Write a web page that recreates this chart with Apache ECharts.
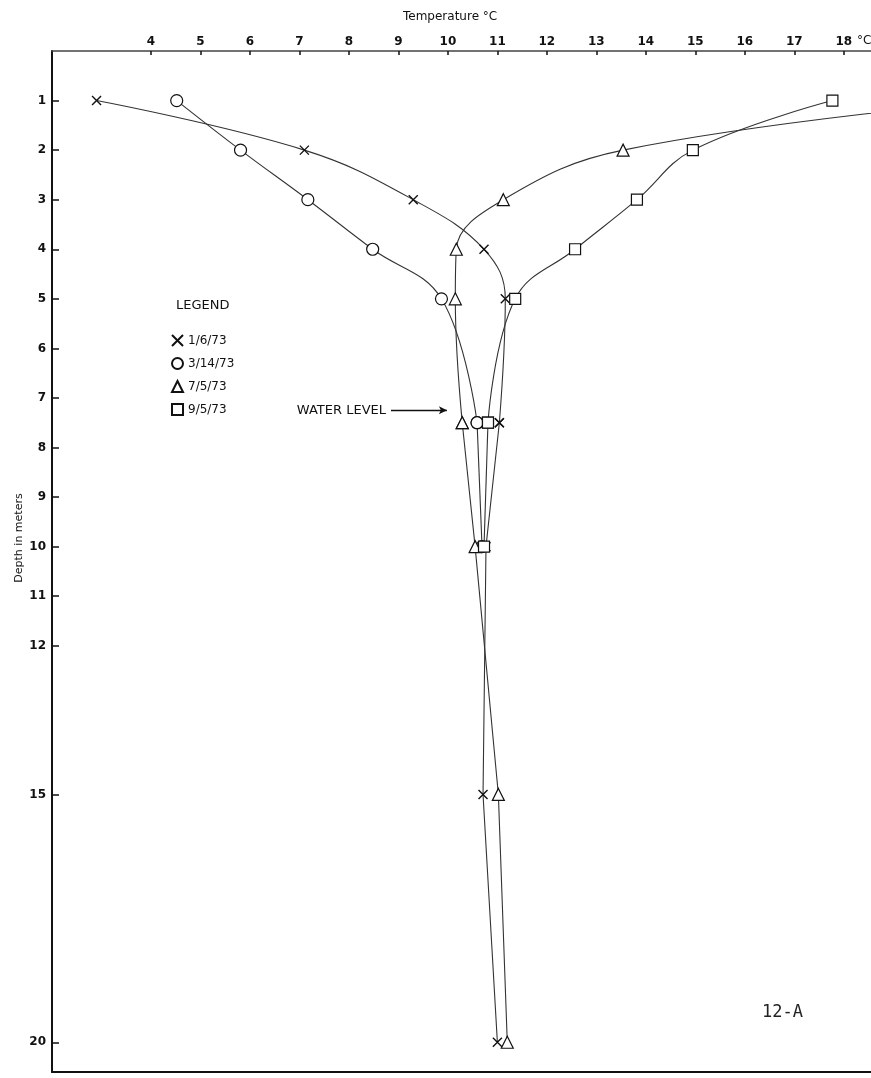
<!DOCTYPE html>
<html>
<head>
<meta charset="utf-8">
<script src="https://cdn.jsdelivr.net/npm/echarts@6/dist/echarts.min.js"></script>
<style>
html,body{margin:0;padding:0;background:#fff;}
#chart{width:871px;height:1078px;}
</style>
</head>
<body>
<div id="chart"></div>
<script>
// ---- data (temperature °C vs depth m) ----
const seriesNames = ['1/6/73', '3/14/73', '7/5/73', '9/5/73'];
const depthJan = [1, 2, 3, 4, 5, 7.5, 10, 15, 20];
const tempJan  = [2.9, 7.1, 9.3, 10.73, 11.16, 11.04, 10.77, 10.71, 11.0];
const depthMar = [1, 2, 3, 4, 5, 7.5, 10];
const tempMar  = [4.52, 5.81, 7.17, 8.48, 9.87, 10.59, 10.69];
const depthJul = [1, 2, 3, 4, 5, 7.5, 10, 15, 20];
const tempJul  = [21.0, 13.54, 11.12, 10.17, 10.15, 10.29, 10.55, 11.02, 11.2];
const depthSep = [1, 2, 3, 4, 5, 7.5, 10];
const tempSep  = [17.77, 14.95, 13.82, 12.57, 11.36, 10.81, 10.73];
const tempTicks  = [4, 5, 6, 7, 8, 9, 10, 11, 12, 13, 14, 15, 16, 17, 18];
const depthTicks = [1, 2, 3, 4, 5, 6, 7, 8, 9, 10, 11, 12, 15, 20];
const waterLevel = 7.5;          // depth of the water level, m
const waterArrowDepth = 7.25;
const waterArrow = [8.85, 9.98];

const pairs = (t, d) => t.map((v, i) => [v, d[i]]);
const crossPath = 'path://M0,0L10,10M10,0L0,10';
const symbols = [crossPath, 'circle', 'triangle', 'rect'];
const sizes = [9, 12, 12, 11];
const dataSets = [pairs(tempJan, depthJan), pairs(tempMar, depthMar), pairs(tempJul, depthJul), pairs(tempSep, depthSep)];

const FONT = '"DejaVu Sans", sans-serif';
const chart = echarts.init(document.getElementById('chart'), null, {renderer: 'canvas'});

const itemStyleFor = i => i === 0
  ? {color: 'rgba(0,0,0,0)', borderColor: '#111', borderWidth: 1.4}
  : {color: '#fff', borderColor: '#111', borderWidth: 1.2};

const series = [];
dataSets.forEach((d, i) => {
  const upper = d.filter(p => p[1] <= waterLevel);   // curved profile above water level
  const lower = d.filter(p => p[1] >= waterLevel);   // straight lines below
  const common = {
    name: seriesNames[i], type: 'line', clip: true,
    symbol: symbols[i], symbolSize: sizes[i], showSymbol: true,
    color: '#111',
    lineStyle: {color: '#333', width: 1.1},
    itemStyle: itemStyleFor(i), z: 3
  };
  series.push(Object.assign({}, common, {data: upper, smooth: 0.4}));
  series.push(Object.assign({}, common, {data: lower, smooth: false}));
});
series[0].markLine = {
  silent: true,
  symbol: ['none', 'arrow'],
  symbolSize: [6, 8],
  lineStyle: {color: '#111', width: 1.3, type: 'solid'},
  label: {show: true, position: 'start', distance: 5, formatter: 'WATER LEVEL',
          color: '#111', fontFamily: FONT, fontSize: 13},
  data: [[{coord: [waterArrow[0], waterArrowDepth]}, {coord: [waterArrow[1], waterArrowDepth]}]]
};

const option = {
  animation: false,
  backgroundColor: '#fff',
  title: {
    text: 'Temperature °C', left: 398, top: 6,
    textStyle: {fontFamily: FONT, fontSize: 12, fontWeight: 'normal', color: '#111'}
  },
  legend: {
    orient: 'vertical', left: 166, top: 329, itemGap: 10,
    itemWidth: 11, itemHeight: 11,
    data: seriesNames.map((n, i) => ({name: n, icon: symbols[i]})),
    textStyle: {fontFamily: FONT, fontSize: 12, color: '#111', padding: [0, 0, 4, 0]},
    selectedMode: false
  },
  grid: {left: 52, right: 0, top: 51, bottom: 6},
  xAxis: [{
    type: 'value', position: 'top', min: 2, max: 18.55,
    axisLine: {show: true, lineStyle: {color: '#444', width: 1.5}},
    axisTick: {show: true, inside: true, length: 4, customValues: tempTicks, lineStyle: {color: '#111', width: 1.5}},
    axisLabel: {show: true, customValues: tempTicks, margin: 3, color: '#111', fontFamily: FONT, fontSize: 12, fontWeight: 'bold'},
    splitLine: {show: false}
  }, {
    type: 'value', position: 'bottom', min: 2, max: 18.55,
    axisLine: {show: true, onZero: false, lineStyle: {color: '#111', width: 2}},
    axisTick: {show: false}, axisLabel: {show: false}, splitLine: {show: false}
  }],
  yAxis: {
    type: 'value', inverse: true, min: 0, max: 20.6,
    axisLine: {show: true, lineStyle: {color: '#111', width: 2}},
    axisTick: {show: true, inside: true, length: 7, customValues: depthTicks, lineStyle: {color: '#111', width: 1.5}},
    axisLabel: {show: true, customValues: depthTicks, margin: 6, color: '#111', fontFamily: FONT, fontSize: 12, fontWeight: 'bold'},
    splitLine: {show: false}
  },
  graphic: [
    {type: 'text', left: 857, top: 35, style: {text: '°C', fontFamily: FONT, fontSize: 12, fill: '#111'}},
    {type: 'text', x: 19, y: 538, rotation: Math.PI / 2,
     style: {text: 'Depth in meters', fontFamily: FONT, fontSize: 11, fill: '#111', align: 'center', verticalAlign: 'middle'}},
    {type: 'text', left: 176, top: 299, style: {text: 'LEGEND', fontFamily: FONT, fontSize: 13, fill: '#111'}},
    {type: 'text', left: 762, top: 1004, style: {text: '12-A', fontFamily: '"DejaVu Sans Mono", monospace', fontSize: 17, fill: '#222'}}
  ],
  series: series
};
chart.setOption(option);
</script>
</body>
</html>
